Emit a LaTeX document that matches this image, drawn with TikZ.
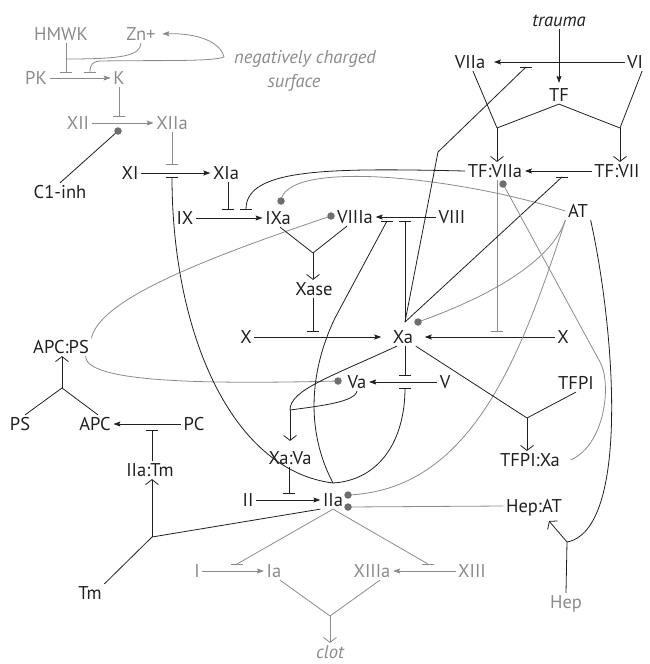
\documentclass[tikz,border=0pt]{standalone}
\usepackage{fontspec}
\setmainfont{PT Sans}
\usetikzlibrary{arrows.meta}
\definecolor{ink}{HTML}{231F20}
\definecolor{gry}{HTML}{8A8B8E}
\definecolor{dotc}{HTML}{6D6E71}
\newcommand\inhbar[2][ink]{\draw[#1,line width=0.9pt] ([xshift=-6pt]#2) -- ([xshift=6pt]#2);}
\newcommand\bdot[1]{\fill[dotc] (#1) circle[radius=3.75pt];}
\begin{document}
\begin{tikzpicture}[x=1pt,y=-1pt,
  lab/.style={font=\fontsize{18.5}{22}\selectfont, text height=12.8pt, text depth=0pt, inner sep=2.5pt, text=ink},
  glab/.style={lab, text=gry},
  ilab/.style={glab, font=\fontsize{18.5}{22}\selectfont\itshape},
  ln/.style={draw=ink, line width=0.8pt},
  gln/.style={draw=gry, line width=0.8pt},
  act/.style={-{Stealth[length=7pt,width=5pt,inset=1.2pt]}},
  chev/.style={-{Straight Barb[length=5pt,width=13pt]}},
]
\useasboundingbox (0,0) rectangle (650,664);
% ---------- nodes
\node[glab] (HMWK) at (61,34) {HMWK};
\node[glab] (Zn) at (141,34) {Zn+};
\node[ilab] (surf1) at (305,57) {negatively charged};
\node[ilab] (surf2) at (294,81) {surface};
\node[glab] (PK) at (36,78) {PK};
\node[glab] (K) at (119,78) {K};
\node[glab] (XII) at (78,123) {XII};
\node[glab] (XIIa) at (172,123) {XIIa};
\node[lab] (C1) at (60,192) {C1-inh};
\node[lab] (XI) at (130,173) {XI};
\node[lab] (XIa) at (226,173) {XIa};
\node[lab] (IX) at (185,218) {IX};
\node[lab] (IXa) at (278,218) {IXa};
\node[lab] (VIIIa) at (355,217) {VIIIa};
\node[lab] (VIII) at (452,217) {VIII};
\node[lab] (Xase) at (314,289) {Xase};
\node[lab] (Xl) at (246,337) {X};
\node[lab] (Xa) at (403,337) {Xa};
\node[lab] (Xr) at (563,337) {X};
\node[lab] (Va) at (357,382) {Va};
\node[lab] (V) at (445,382) {V};
\node[lab] (XaVa) at (290,458) {Xa:Va};
\node[lab] (II) at (248,500) {II};
\node[lab] (IIa) at (333,500) {IIa};
\node[lab] (HepAT) at (534,506) {Hep:AT};
\node[glab] (Hep) at (566,602) {Hep};
\node[lab] (APCPS) at (61,347) {APC:PS};
\node[lab] (PS) at (20,424) {PS};
\node[lab] (APC) at (95,424) {APC};
\node[lab] (PC) at (194,424) {PC};
\node[lab] (IIaTm) at (150,470) {IIa:Tm};
\node[lab] (Tm) at (90,593) {Tm};
\node[glab] (I) at (197,571) {I};
\node[glab] (Ia) at (274,571) {Ia};
\node[glab] (XIIIa) at (372,571) {XIIIa};
\node[glab] (XIII) at (472,571) {XIII};
\node[ilab] (clot) at (330,652) {clot};
\node[lab, font=\fontsize{18.5}{22}\selectfont\itshape] (trauma) at (559,20) {trauma};
\node[lab] (VIIa) at (470,62) {VIIa};
\node[lab, anchor=west] (VI) at (624.5,62) {VI};
\node[lab] (TF) at (559,95) {TF};
\node[lab] (TFVIIa) at (495,171) {TF:VIIa};
\node[lab] (TFVII) at (617,171) {TF:VII};
\node[lab] (AT) at (578,211) {AT};
\node[lab] (TFPI) at (576,383) {TFPI};
\node[lab] (TFPIXa) at (530,460) {TFPI:Xa};
% ---------- coordinates
\coordinate (hb1) at (66,72);
\coordinate (hb2) at (90,72);
\coordinate (hj) at (66,59);
\coordinate (sj) at (224,57);
\coordinate (kb) at (119,116);
\coordinate (cd) at (118,131);
\coordinate (xb1) at (172,164);
\coordinate (xb2) at (172,177);
\coordinate (ib1) at (228,209);
\coordinate (ib2) at (246,209);
\coordinate (ixd) at (281,201);
\coordinate (viiid) at (331,216);
\coordinate (vb1) at (387,221);
\coordinate (vb2) at (405,221);
\coordinate (yx) at (313,253);
\coordinate (xb) at (313,331);
\coordinate (tb) at (497,331);
\coordinate (xs) at (405,322);
\coordinate (xk) at (438,152);
\coordinate (xad) at (418,322);
\coordinate (vat) at (405,375);
\coordinate (vab) at (405,388);
\coordinate (vad) at (338,381);
\coordinate (jv) at (290,410);
\coordinate (iib) at (289,493);
\coordinate (iit) at (333,483);
\coordinate (iid1) at (348,495);
\coordinate (iid2) at (348,507);
\coordinate (jt) at (527,418);
\coordinate (hj2) at (567,542);
\coordinate (hat) at (549,521);
\coordinate (va) at (526,67);
\coordinate (r1) at (497,128);
\coordinate (r2) at (620,128);
\coordinate (tfb) at (562,177);
\coordinate (tfd) at (503,184);
\coordinate (ya) at (62,388);
\coordinate (pb) at (152,430);
\coordinate (tj) at (152,537);
\coordinate (iab) at (237,564);
\coordinate (xiiib) at (428,564);
\coordinate (cj) at (330,616);
% ---------- top-left (grey)
\draw[gln,act] (PK) -- (K);
\draw[gln] ([xshift=5pt]HMWK.south) -- (hb1);
\inhbar[gry]{hb1}
\draw[gln] (Zn.south) .. controls (140,56) and (122,59) .. (hj);
\draw[gln,act,shorten >=4pt] (sj) .. controls (220,41) and (196,33) .. (Zn.east);
\draw[gln] (sj) .. controls (212,62) and (150,60) .. (102,61) .. controls (93,61) and (90,64) .. (hb2);
\inhbar[gry]{hb2}
\draw[gln] (K) -- (kb);
\inhbar[gry]{kb}
\draw[gln,act] (XII) -- (XIIa);
\draw[ln] (C1.north) -- (cd);
\bdot{cd}
\draw[gln] (XIIa.south) -- (xb1);
\inhbar[gry]{xb1}
% ---------- intrinsic
\draw[ln,act] (XI) -- (XIa);
\draw[ln] (XIa.south -| ib1) -- (ib1);
\inhbar{ib1}
\draw[ln,act] (IX) -- (IXa);
\draw[ln] (TFVIIa.west) .. controls (330,168) and (246,168) .. (ib2);
\inhbar{ib2}
\draw[gln] (AT.west) .. controls (450,175) and (285,160) .. (ixd);
\bdot{ixd}
\draw[gln] (APCPS.north east) .. controls (100,300) and (200,260) .. (viiid);
\bdot{viiid}
\draw[gln] ([xshift=-6pt]APCPS.south east) .. controls (86,380) and (180,385) .. (vad);
\bdot{vad}
\draw[ln,act] (VIII) -- (VIIIa);
\draw[ln] ([xshift=2pt]IXa.south) -- (yx);
\draw[ln] ([xshift=-8pt]VIIIa.south) -- (yx);
\draw[ln,chev] (yx) -- (yx |- Xase.north);
\draw[ln] (Xase.south -| xb) -- (xb);
\inhbar{xb}
\draw[ln,act,shorten >=9pt] (Xl) -- (Xa);
\draw[ln,act,shorten >=9pt] (Xr) -- (Xa);
\draw[gln] (TFVIIa.south -| tb) -- (tb);
\inhbar[gry]{tb}
% ---------- Xa feedback
\draw[ln] (xs) -- (vb2);
\inhbar{vb2}
\draw[ln] (xs) -- (xk) -- (va);
\inhbar{va}
\draw[ln] (xs) -- (tfb);
\inhbar{tfb}
% ---------- IIa feedback
\draw[ln] (iit) .. controls (305,430) and (310,370) .. (335,318) -- (vb1);
\inhbar{vb1}
\draw[ln] (iit) .. controls (230,470) and (172,330) .. (xb2);
\inhbar{xb2}
\draw[ln] (iit) .. controls (380,480) and (405,440) .. (vab);
\inhbar{vab}
\draw[ln] (Xa.south -| vat) -- (vat);
\inhbar{vat}
\draw[ln,act] (V) -- (Va);
\draw[ln] ([xshift=-6pt]Xa.south) .. controls (330,377) and (290,390) .. (jv);
\draw[ln] (Va.south) .. controls (355,402) and (320,406) .. (jv);
\draw[ln,chev,shorten >=8pt] (jv) -- (jv |- XaVa.north);
\draw[ln] (XaVa.south -| iib) -- (iib);
\inhbar{iib}
\draw[ln,act] (II) -- (IIa);
% ---------- inhibitors (grey)
\draw[gln] (AT.south west) .. controls (520,360) and (470,490) .. (iid1);
\bdot{iid1}
\draw[gln] (HepAT.west) -- (iid2);
\bdot{iid2}
\draw[gln] (AT.south west) .. controls (550,265) and (480,300) .. (xad);
\bdot{xad}
\draw[gln] ([xshift=8pt]TFPIXa.east) .. controls (605,445) and (612,384) .. (600,362) -- (tfd);
\bdot{tfd}
\draw[ln] (AT.south east) .. controls (615,330) and (630,530) .. (hj2);
\draw[ln] (Hep.north) -- (hj2);
\draw[ln,chev] (hj2) -- (hat);
\draw[ln] (Xa.south east) -- (jt);
\draw[ln] (TFPI.south) -- (jt);
\draw[ln,chev] (jt) -- (jt |- TFPIXa.north);
% ---------- extrinsic
\draw[ln,act,shorten >=6pt] (VI) -- (VIIa);
\draw[ln,act,shorten >=3pt] (trauma) -- (TF);
\draw[ln] (TF.south) -- (r1);
\draw[ln] (TF.south) -- (r2);
\draw[ln] ([xshift=3pt]VIIa.south) -- (r1);
\draw[ln] ([xshift=7pt]VI.south) -- (r2);
\draw[ln,chev] (r1) -- (r1 |- TFVIIa.north);
\draw[ln,chev] (r2) -- (r2 |- TFVII.north);
\draw[ln,act] (TFVII) -- (TFVIIa);
% ---------- protein C
\draw[ln] ([xshift=5pt]PS.north) -- (ya);
\draw[ln] ([xshift=3pt]APC.north) -- (ya);
\draw[ln,chev] (ya) -- (ya |- APCPS.south);
\draw[ln,act] (PC) -- (APC);
\draw[ln] (pb |- IIaTm.north) -- (pb);
\inhbar{pb}
\draw[ln] (Tm.north east) -- (tj);
\draw[ln] (IIa.south west) -- (tj);
\draw[ln,chev] (tj) -- (tj |- IIaTm.south);
% ---------- clot (grey)
\draw[gln] (IIa.south) -- (iab);
\inhbar[gry]{iab}
\draw[gln] (IIa.south) -- (xiiib);
\inhbar[gry]{xiiib}
\draw[gln,act] (I) -- (Ia);
\draw[gln,act] (XIII) -- (XIIIa);
\draw[gln] ([xshift=6pt]Ia.south) -- (cj);
\draw[gln] ([xshift=8pt]XIIIa.south) -- (cj);
\draw[gln,chev] (cj) -- (cj |- clot.north);
\end{tikzpicture}
\end{document}
